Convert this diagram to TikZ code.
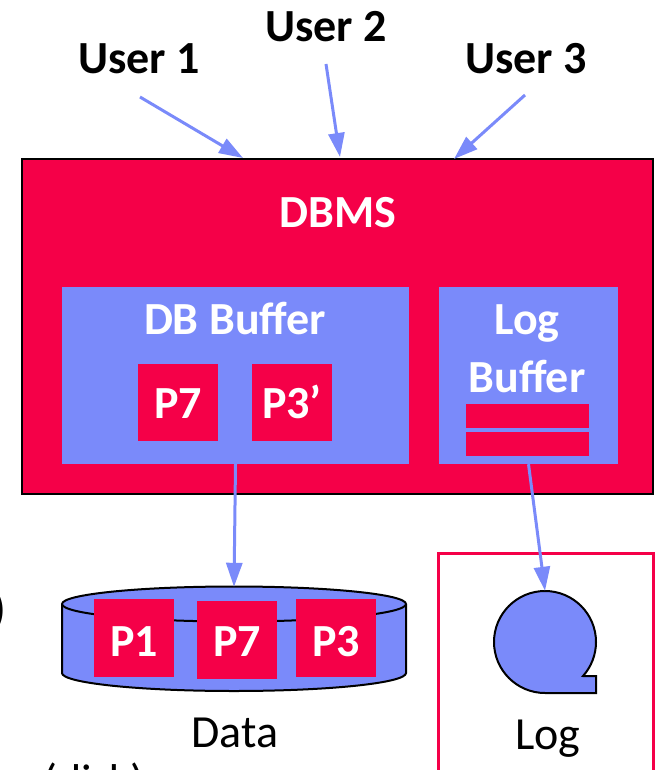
\documentclass[tikz,border=0pt]{standalone}
\usepackage{fontspec}
\setmainfont{Carlito}
\usetikzlibrary{arrows.meta}
\definecolor{dbred}{RGB}{245,0,72}
\definecolor{dbblue}{RGB}{122,138,250}
\tikzset{
  txt/.style={inner sep=0pt, anchor=base, font=\fontsize{46}{52}\selectfont},
  wtxt/.style={txt, text=white, font=\fontsize{46}{52}\selectfont\bfseries},
  btxt/.style={txt, text=black, font=\fontsize{46}{52}\selectfont\bfseries},
  redbox/.style={fill=dbred, draw=none, inner sep=0pt},
  bluebox/.style={fill=dbblue, draw=none, inner sep=0pt},
  conn/.style={draw=dbblue, line width=3pt, -{Triangle[length=24pt,width=16pt]}},
}
\begin{document}
\begin{tikzpicture}[x=1pt,y=-1pt]
\useasboundingbox (0,0) rectangle (657,770);
\clip (0,0) rectangle (657,770);
% users
\node[btxt] (u1) at (139,74) {User 1};
\node[btxt] (u2) at (326,42) {User 2};
\node[btxt] (u3) at (526,74) {User 3};
% DBMS
\node[redbox, draw=black, line width=2.5pt, minimum width=631pt, minimum height=335pt] (dbms) at (337.5,326.5) {};
\node[wtxt] (dbmslbl) at (338,227) {DBMS};
% DB buffer
\node[bluebox, minimum width=347pt, minimum height=177pt] (dbbuf) at (235.5,375.5) {};
\node[wtxt] (dbbuflbl) at (235,334) {DB Buffer};
\node[redbox, minimum width=80pt, minimum height=77pt] (bp7) at (178,402.5) {};
\node[wtxt] at (178,418) {P7};
\node[redbox, minimum width=80pt, minimum height=77pt] (bp3) at (292,402.5) {};
\node[wtxt] at (292,418) {P3’};
% Log buffer
\node[bluebox, minimum width=179pt, minimum height=177pt] (logbuf) at (528.5,375.5) {};
\node[wtxt] (logbuflbl1) at (527,334) {Log};
\node[wtxt] (logbuflbl2) at (527,392) {Buffer};
\node[redbox, minimum width=123pt, minimum height=24pt] (bar1) at (527.5,416) {};
\node[redbox, minimum width=123pt, minimum height=24pt] (bar2) at (527.5,444) {};
% user arrows
\coordinate (u1s) at (140,97);
\coordinate (u1e) at (243,158);
\coordinate (u2s) at (326,64);
\coordinate (u2e) at (340,157);
\coordinate (u3s) at (525,95);
\coordinate (u3e) at (454,159);
\draw[conn] (u1s) -- (u1e);
\draw[conn] (u2s) -- (u2e);
\draw[conn] (u3s) -- (u3e);
% disk
\node[inner sep=0pt, minimum width=344pt, minimum height=104pt] (disk) at (234,639) {};
\filldraw[fill=dbblue, draw=black, line width=2pt]
  (62,604) -- (62,673) arc[start angle=180, end angle=0, x radius=172, y radius=18]
  -- (406,604) arc[start angle=0, end angle=-180, x radius=172, y radius=17.5] -- cycle;
\draw[black, line width=2pt] (62,604) arc[start angle=180, end angle=0, x radius=172, y radius=17.5];
\node[redbox, minimum width=80pt, minimum height=78pt] (dp1) at (134,638) {};
\node[wtxt] at (134,656) {P1};
\node[redbox, minimum width=80pt, minimum height=78pt] (dp7) at (237,639.5) {};
\node[wtxt] at (237,656) {P7};
\node[redbox, minimum width=80pt, minimum height=78pt] (dp3) at (336,638) {};
\node[wtxt] at (336,656) {P3};
\node[txt] (datalbl) at (235,747) {Data};
% log box
\node[draw=dbred, line width=3pt, inner sep=0pt, minimum width=215pt, minimum height=240pt] (logbox) at (545.5,673) {};
\node[inner sep=0pt, minimum size=102pt] (logsym) at (545,642) {};
\filldraw[fill=dbblue, draw=black, line width=2pt]
  (545,693) arc[start angle=90, end angle=401.8, radius=51] -- (596,676) -- (596,693) -- cycle;
\node[txt] (loglbl) at (548,749) {Log};
% data arrows
\draw[conn] (dbbuf.south) -- (disk.north);
\draw[conn] (logbuf.south) -- (logsym.north);
% cut-off text fragments
\node[txt, anchor=base east] (frag1) at (7,624) {)};
\node[txt, anchor=base west] (frag2) at (43,796) {(disk)};
\end{tikzpicture}
\end{document}
